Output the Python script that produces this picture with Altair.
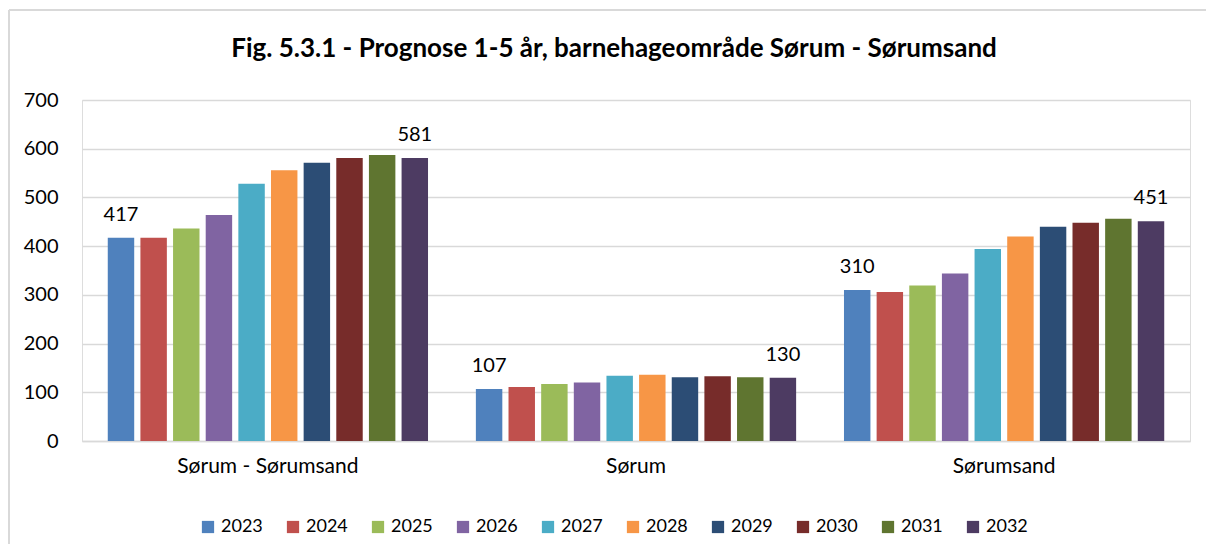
import altair as alt
import pandas as pd

title_text = "Fig. 5.3.1 - Prognose 1-5 år, barnehageområde Sørum - Sørumsand"
groups = ["Sørum - Sørumsand", "Sørum", "Sørumsand"]
years = ["2023", "2024", "2025", "2026", "2027", "2028", "2029", "2030", "2031", "2032"]
v_total = [417, 417, 436, 464, 528, 556, 571, 581, 587, 581]
v_sorum = [107, 111, 117, 120, 134, 136, 131, 133, 131, 130]
v_sorumsand = [310, 306, 319, 344, 394, 420, 440, 448, 456, 451]
colors = ["#4F81BD", "#C0504D", "#9BBB59", "#8064A2", "#4BACC6",
          "#F79646", "#2C4D75", "#772C2A", "#5F7530", "#4D3B62"]
label_years = ["2023", "2032"]
y_ticks = [0, 100, 200, 300, 400, 500, 600, 700]

rows = []
for g, vals in zip(groups, [v_total, v_sorum, v_sorumsand]):
    for y, v in zip(years, vals):
        rows.append({"group": g, "year": y, "value": v})
df = pd.DataFrame(rows)

FONT = "Lato"
W, H = 1108, 341

base = alt.Chart(df).encode(
    x=alt.X("group:N", sort=groups, title=None,
            scale=alt.Scale(paddingInner=0.13, paddingOuter=0.07),
            axis=alt.Axis(labelAngle=0, labelFontSize=21, labelFont=FONT,
                          labelColor="#000000", labelPadding=14, ticks=False,
                          labelLimit=0,
                          domainColor="#d9d9d9", domainWidth=1.5)),
    xOffset=alt.XOffset("year:N", sort=years,
                        scale=alt.Scale(paddingInner=0.19, paddingOuter=0)),
    y=alt.Y("value:Q", title=None,
            scale=alt.Scale(domain=[0, 700]),
            axis=alt.Axis(values=y_ticks, domain=False, ticks=False,
                          labelFontSize=20, labelFont=FONT, labelColor="#000000",
                          labelPadding=24, gridColor="#d9d9d9", gridWidth=1.5)),
)

bars = base.mark_bar().encode(
    color=alt.Color("year:N", sort=years,
                    scale=alt.Scale(domain=years, range=colors),
                    legend=alt.Legend(title=None, orient="none", legendX=117, legendY=418,
                                      direction="horizontal", columns=10,
                                      symbolType="square", symbolSize=150,
                                      symbolStrokeWidth=0, labelFontSize=18,
                                      labelFont=FONT, labelColor="#000000",
                                      columnPadding=21, labelOffset=4))
)

labels = base.mark_text(fontSize=20, font=FONT, color="#000000",
                        baseline="alphabetic", dy=-17).encode(
    text="value:Q"
).transform_filter(alt.FieldOneOfPredicate(field="year", oneOf=label_years))

frame_df = pd.DataFrame({"k": [0]})
top_rule = alt.Chart(frame_df).mark_rule(color="#d9d9d9", strokeWidth=2).encode(
    x=alt.value(-73), x2=alt.value(W + 40), y=alt.value(-90))
left_rule = alt.Chart(frame_df).mark_rule(color="#d9d9d9", strokeWidth=2).encode(
    x=alt.value(-73), y=alt.value(-90), y2=alt.value(H + 120))

title_df = pd.DataFrame({"t": [title_text]})
title_mark = alt.Chart(title_df).mark_text(
    fontSize=26, font=FONT, fontWeight="bold", color="#000000",
    align="center", baseline="middle").encode(
    text="t:N", x=alt.value(W / 2 - 22), y=alt.value(-51))

chart = alt.layer(bars, labels, top_rule, left_rule, title_mark).properties(
    width=W, height=H,
    padding={"left": 74, "top": 92, "right": 16, "bottom": 103},
    autosize=alt.AutoSizeParams(type="none"),
).configure_view(stroke=None).configure(background="white")

chart.save("out.html", embed_options={"renderer": "svg", "actions": False})
